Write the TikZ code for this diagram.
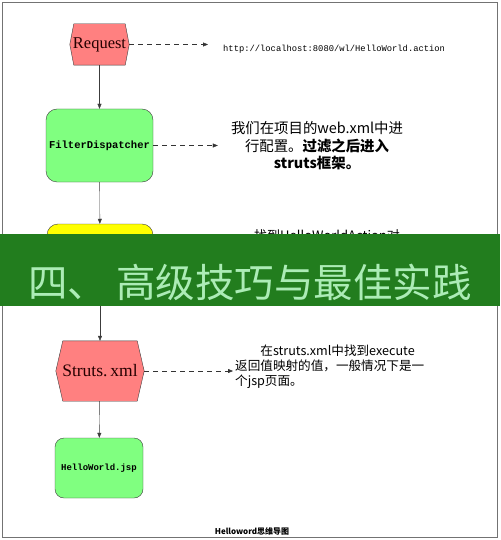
\documentclass[tikz,border=0pt]{standalone}
\usepackage{fontspec}
\setmainfont{Liberation Serif}
\newfontfamily\cjk{Noto Sans CJK SC}
\newfontfamily\monofont{Liberation Mono}
\usetikzlibrary{arrows.meta,backgrounds}
\definecolor{hexred}{RGB}{255,128,128}
\definecolor{boxgreen}{RGB}{128,255,128}
\definecolor{boxyellow}{RGB}{255,255,0}
\definecolor{edgegray}{RGB}{60,60,60}
\definecolor{bannergreen}{RGB}{34,125,30}
\definecolor{bannertext}{RGB}{172,236,182}

\begin{document}
\begin{tikzpicture}[x=1pt,y=-1pt,
  hexlabel/.style={inner sep=0pt, text=black!85!red},
  roundbox/.style={draw=edgegray, inner sep=0pt, rounded corners=11pt},
  flow/.style={draw=edgegray, -{Triangle[length=5pt,width=4pt]}},
  note/.style={draw=black!80, dash pattern=on 5pt off 4pt, -{Triangle[length=5pt,width=4pt]}},
  notetext/.style={inner sep=0pt, font=\cjk}]
  \useasboundingbox (0,0) rectangle (500,540);
  \draw[black!55] (2,2) rectangle (497,537);

  % flow of the request
  \node[hexlabel, minimum width=59pt, minimum height=41pt, font=\fontsize{16.5}{16.5}\selectfont] (request) at (99.5,44.5) {Request};
  \node[roundbox, fill=boxgreen, minimum width=107pt, minimum height=73pt, font=\monofont\bfseries\fontsize{10.5}{10.5}\selectfont] (filter) at (99.5,145.5) {FilterDispatcher};
  \node[roundbox, fill=boxyellow, minimum width=106pt, minimum height=73pt] (action) at (100,260.5) {};
  \node[hexlabel, minimum width=88pt, minimum height=60pt, font=\fontsize{17.5}{17.5}\selectfont] (struts) at (100,371) {Struts.\,xml};
  \node[roundbox, fill=boxgreen, rounded corners=9pt, minimum width=88pt, minimum height=60pt, font=\monofont\bfseries\fontsize{9}{9}\selectfont] (jsp) at (99,468) {HelloWorld.jsp};

  % hexagon outlines behind the labels
  \begin{scope}[on background layer]
    \filldraw[fill=hexred, draw=edgegray] (request.west) -- ([xshift=4pt]request.north west) -- ([xshift=-4pt]request.north east) -- (request.east) -- ([xshift=-4pt]request.south east) -- ([xshift=4pt]request.south west) -- cycle;
    \filldraw[fill=hexred, draw=edgegray] (struts.west) -- ([xshift=7pt]struts.north west) -- ([xshift=-7pt]struts.north east) -- (struts.east) -- ([xshift=-7pt]struts.south east) -- ([xshift=7pt]struts.south west) -- cycle;
  \end{scope}

  \draw[flow] (request) -- (filter);
  \draw[flow] (filter) -- (action);
  \draw[flow] (action) -- (struts);
  \draw[flow] (struts) -- (jsp);

  % notes on the right
  \node[notetext, anchor=west, font=\monofont\fontsize{8.8}{8.8}\selectfont] (urlnote) at (223,49) {http://localhost:8080/wl/HelloWorld.action};
  \node[notetext, align=center, font=\cjk\fontsize{14.4}{17.5}\selectfont] (filternote) at (317,146) {我们在项目的web.xml中进\\行配置。\textbf{过滤之后进入}\\\textbf{struts框架。}};
  \node[notetext, anchor=north west, font=\cjk\fontsize{13}{15}\selectfont] (actionnote) at (254,229) {找到HelloWorldAction对};
  \node[notetext, anchor=west, align=left, font=\cjk\fontsize{12.6}{15}\selectfont] (strutsnote) at (235,366.5) {\hspace*{2em}在struts.xml中找到execute\\返回值映射的值，一般情况下是一\\个jsp页面。};

  \draw[note, shorten >=15pt] (request.east) -- (request.east -| urlnote.west);
  \draw[note, shorten >=13pt] (filter.east) -- (filter.east -| filternote.west);
  \draw[note, shorten >=2pt] (struts.east) -- (struts.east -| strutsnote.west);

  % banner across the middle
  \node[fill=bannergreen, inner sep=0pt, minimum width=500pt, minimum height=72pt] (banner) at (250,270) {};
  \node[inner sep=0pt, text=bannertext, font=\cjk\fontsize{39.5}{39.5}\selectfont] (title) at (250,282) {四、 高级技巧与最佳实践};

  \node[inner sep=0pt, font=\cjk\bfseries\fontsize{8}{8}\selectfont] (caption) at (252,531) {Helloword思维导图};
\end{tikzpicture}
\end{document}
